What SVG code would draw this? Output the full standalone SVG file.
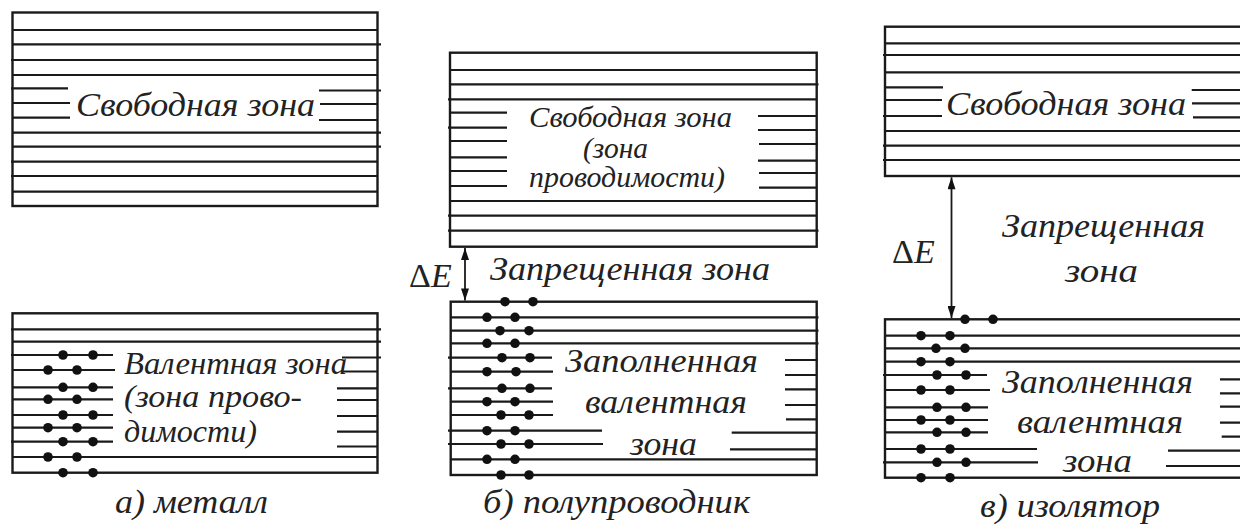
<svg xmlns="http://www.w3.org/2000/svg" width="1240" height="526" viewBox="0 0 1240 526">
<style>
.bx{fill:none;stroke:#1a1a1a;stroke-width:2.4}
.ln{fill:none;stroke:#1a1a1a;stroke-width:2.2}
.dt{fill:#111}
.dt circle{r:4.8px}
.t{font-family:"Liberation Serif","DejaVu Serif",serif;font-style:italic;font-size:34px;fill:#222}
.s{font-size:31px}
.u{font-style:normal}
.ar{stroke:#1a1a1a;stroke-width:1.8;fill:none}
</style>
<defs>
<marker id="ah" viewBox="0 0 12 8" refX="12" refY="4" markerWidth="13" markerHeight="8" markerUnits="userSpaceOnUse" orient="auto-start-reverse">
<path d="M0,0 L12,4 L0,8 Z" fill="#111"/>
</marker>
</defs>
<rect width="1240" height="526" fill="#fff"/>

<g id="metal-free">
<rect class="bx" x="12.5" y="12.5" width="365" height="193.5"/>
<path class="ln" d="M12.5 30H377.5M12.5 44.3H381M11 60H377.5M12.5 75H377.5M12.5 132.7H381M12.5 146.7H381M11 161.7H377.5M11 176H377.5M12.5 191.7H377.5"/>
<path class="ln" d="M11 88.3H68M12.5 103H70M12.5 117.7H70M319 90.5H381M320 104H378M319 120H378"/>
<text class="t" x="76" y="116" textLength="239" lengthAdjust="spacingAndGlyphs">Свободная зона</text>
</g>

<g id="metal-valence">
<rect class="bx" x="12.5" y="313.3" width="365" height="159.4"/>
<path class="ln" d="M11 329.3H381M12.5 341.7H381M12.5 457H377.5"/>
<path class="ln" d="M11 355H113M12.5 370H115M12.5 387.3H113M12.5 399.3H113M12.5 415H113M12.5 427.7H113M11 441.7H113M342 357.5H381M342 371.5H378M337 388.3H378M337 400H378M337 416H378M337 431.7H378M337 446.5H378"/>
<g class="dt">
<circle cx="63" cy="355" r="4.8"/><circle cx="93" cy="355" r="4.8"/>
<circle cx="48" cy="370" r="4.8"/><circle cx="77" cy="370" r="4.8"/>
<circle cx="63" cy="387.3" r="4.8"/><circle cx="93" cy="387.3" r="4.8"/>
<circle cx="48" cy="399.3" r="4.8"/><circle cx="77" cy="399.3" r="4.8"/>
<circle cx="63" cy="415" r="4.8"/><circle cx="93" cy="415" r="4.8"/>
<circle cx="48" cy="427.7" r="4.8"/><circle cx="77" cy="427.7" r="4.8"/>
<circle cx="63" cy="441.7" r="4.8"/><circle cx="93" cy="441.7" r="4.8"/>
<circle cx="48" cy="457" r="4.8"/><circle cx="77" cy="457" r="4.8"/>
<circle cx="63" cy="472.7" r="4.8"/><circle cx="93" cy="472.7" r="4.8"/>
</g>
<text class="t s" x="124" y="374" textLength="223" lengthAdjust="spacingAndGlyphs">Валентная зона</text>
<text class="t s" x="124" y="407" textLength="178" lengthAdjust="spacingAndGlyphs">(зона прово-</text>
<text class="t s" x="124" y="442" textLength="133" lengthAdjust="spacingAndGlyphs">димости)</text>
</g>
<text id="cap-a" class="t" x="115" y="513" textLength="153" lengthAdjust="spacingAndGlyphs">а) металл</text>

<g id="semi-free">
<rect class="bx" x="450" y="52.7" width="366.7" height="194"/>
<path class="ln" d="M450 70H816.7M450 84.3H818.5M448 99.3H816.7M450 201H816.7M448 215.7H816.7M448 230.7H818.5"/>
<path class="ln" d="M450 112.7H507M448 127.7H507M450 141H507M450 157.3H507M450 171H507M450 186H507M758 116H816.7M758 130H816.7M759 144H818M758 160.7H816.7M759 173H816.7M759 187.7H816.7"/>
<text class="t" x="529" y="127" textLength="203" lengthAdjust="spacingAndGlyphs" style="font-size:29px">Свободная зона</text>
<text class="t" x="583" y="157.7" textLength="65" lengthAdjust="spacingAndGlyphs" style="font-size:29px">(зона</text>
<text class="t" x="529" y="187" textLength="196" lengthAdjust="spacingAndGlyphs" style="font-size:29px">проводимости)</text>
</g>

<g id="semi-gap">
<text class="t" x="409" y="287"><tspan class="u">Δ</tspan>E</text>
<text class="t" x="490" y="280" textLength="280" lengthAdjust="spacingAndGlyphs">Запрещенная зона</text>
</g>

<g id="semi-valence">
<rect class="bx" x="450.7" y="301.7" width="366" height="173.3"/>
<path class="ln" d="M450.7 317.3H818.5M450.7 330.7H818.5M450.7 343.3H818.5M450.7 459.3H816.7"/>
<path class="ln" d="M448 357.7H552M450.7 371.7H553M448 388.3H552M450.7 401.7H553M450.7 415H553M448 430.7H602M448 444H603M785 360H818M785 375H816.7M785 389.3H816.7M785 405H816.7M786 419.3H816.7M731.7 432.7H816.7M730 449.3H816.7"/>
<g class="dt">
<circle cx="505" cy="301.7" r="4.8"/><circle cx="533" cy="301.7" r="4.8"/>
<circle cx="487" cy="317.3" r="4.8"/><circle cx="515" cy="317.3" r="4.8"/>
<circle cx="500" cy="330.7" r="4.8"/><circle cx="529" cy="330.7" r="4.8"/>
<circle cx="487" cy="343.3" r="4.8"/><circle cx="515" cy="343.3" r="4.8"/>
<circle cx="502" cy="357.7" r="4.8"/><circle cx="530" cy="357.7" r="4.8"/>
<circle cx="487" cy="371.7" r="4.8"/><circle cx="516" cy="371.7" r="4.8"/>
<circle cx="502" cy="388.3" r="4.8"/><circle cx="530" cy="388.3" r="4.8"/>
<circle cx="487" cy="401.7" r="4.8"/><circle cx="515" cy="401.7" r="4.8"/>
<circle cx="501" cy="415" r="4.8"/><circle cx="529" cy="415" r="4.8"/>
<circle cx="487" cy="430.7" r="4.8"/><circle cx="515" cy="430.7" r="4.8"/>
<circle cx="501" cy="444" r="4.8"/><circle cx="529" cy="444" r="4.8"/>
<circle cx="487" cy="459.3" r="4.8"/><circle cx="515" cy="459.3" r="4.8"/>
<circle cx="501" cy="475" r="4.8"/><circle cx="529" cy="475" r="4.8"/>
</g>
<text class="t" x="565" y="372" textLength="193" lengthAdjust="spacingAndGlyphs">Заполненная</text>
<text class="t" x="585" y="413" textLength="162" lengthAdjust="spacingAndGlyphs">валентная</text>
<text class="t" x="630" y="455" textLength="67" lengthAdjust="spacingAndGlyphs">зона</text>
</g>
<text id="cap-b" class="t" x="483" y="513" textLength="267" lengthAdjust="spacingAndGlyphs">б) полупроводник</text>

<g id="ins-free">
<rect class="bx" x="885" y="26.7" width="370" height="149.3"/>
<path class="ln" d="M885 43.3H1240M883 55H1240M885 72.3H1240M885 131H1240M883 145.7H1240M883 160H1240"/>
<path class="ln" d="M885 87.3H943M885 100H942M883 116H942M1191.7 90H1240M1192 103.3H1240M1193 117.3H1240"/>
<text class="t" x="946" y="115" textLength="240" lengthAdjust="spacingAndGlyphs">Свободная зона</text>
</g>

<g id="ins-gap">
<text class="t" x="892" y="263"><tspan class="u">Δ</tspan>E</text>
<text class="t" x="1002" y="237" textLength="203" lengthAdjust="spacingAndGlyphs">Запрещенная</text>
<text class="t" x="1065" y="282" textLength="73" lengthAdjust="spacingAndGlyphs">зона</text>
</g>

<g id="ins-valence">
<rect class="bx" x="885" y="319.3" width="370" height="158.4"/>
<path class="ln" d="M885 335.7H1240M885 348.3H1240M885 361.7H1240"/>
<path class="ln" d="M883 375H987M885 390H990M885 407.3H988M885 420H988M885 432.3H988M885 449H1037M883 462.3H1038M1220 379.3H1240M1220 393.3H1240M1220 406.7H1240M1220 422.7H1240M1221.7 436.7H1240M1168 450.7H1240M1166 466H1240"/>
<g class="dt">
<circle cx="965" cy="319.3" r="4.8"/><circle cx="993" cy="319.3" r="4.8"/>
<circle cx="921" cy="335.7" r="4.8"/><circle cx="950" cy="335.7" r="4.8"/>
<circle cx="936" cy="348.3" r="4.8"/><circle cx="965" cy="348.3" r="4.8"/>
<circle cx="921" cy="361.7" r="4.8"/><circle cx="950" cy="361.7" r="4.8"/>
<circle cx="937" cy="375" r="4.8"/><circle cx="966" cy="375" r="4.8"/>
<circle cx="921" cy="390" r="4.8"/><circle cx="950" cy="390" r="4.8"/>
<circle cx="937" cy="407.3" r="4.8"/><circle cx="966" cy="407.3" r="4.8"/>
<circle cx="921" cy="420" r="4.8"/><circle cx="950" cy="420" r="4.8"/>
<circle cx="937" cy="432.3" r="4.8"/><circle cx="966" cy="432.3" r="4.8"/>
<circle cx="921" cy="449" r="4.8"/><circle cx="950" cy="449" r="4.8"/>
<circle cx="937" cy="462.3" r="4.8"/><circle cx="966" cy="462.3" r="4.8"/>
<circle cx="921" cy="477.7" r="4.8"/><circle cx="950" cy="477.7" r="4.8"/>
</g>
<text class="t" x="1002" y="393" textLength="191" lengthAdjust="spacingAndGlyphs">Заполненная</text>
<text class="t" x="1017" y="433" textLength="166" lengthAdjust="spacingAndGlyphs">валентная</text>
<text class="t" x="1063" y="472" textLength="69" lengthAdjust="spacingAndGlyphs">зона</text>
</g>
<text id="cap-c" class="t" x="980" y="517" textLength="180" lengthAdjust="spacingAndGlyphs">в) изолятор</text>

<g id="connectors">
<line class="ar" x1="465" y1="248" x2="465" y2="300.5" marker-start="url(#ah)" marker-end="url(#ah)"/>
<line class="ar" x1="951.5" y1="177.3" x2="951.5" y2="318" marker-start="url(#ah)" marker-end="url(#ah)"/>
</g>
</svg>
